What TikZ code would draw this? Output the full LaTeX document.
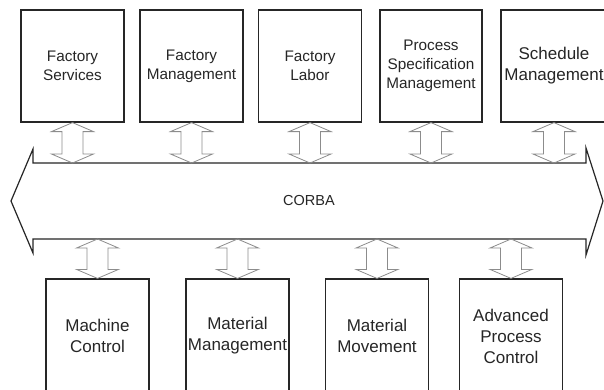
\documentclass[tikz,border=0pt]{standalone}
\usepackage{fontspec}
\setmainfont{Liberation Sans}
\usetikzlibrary{calc}
% hollow double arrow between two points on a vertical line
\newcommand{\linkarrow}[2]{%
  \draw[link] let \p1=(#1), \p2=(#2) in
    (\x1,\y1) -- (\x1+21pt,\y1-9pt) -- (\x1+10.5pt,\y1-9pt)
    -- (\x1+10.5pt,\y2+9pt) -- (\x1+21pt,\y2+9pt) -- (\x1,\y2)
    -- (\x1-21pt,\y2+9pt) -- (\x1-10.5pt,\y2+9pt)
    -- (\x1-10.5pt,\y1-9pt) -- (\x1-21pt,\y1-9pt) -- cycle;}
\begin{document}
\begin{tikzpicture}[x=1pt,y=-1pt,
  unitbox/.style={draw=black!85, line width=1.2pt, minimum width=103pt,
    minimum height=112pt, align=center, text=black!85, inner sep=0pt},
  toptext/.style={font=\fontsize{15.3}{19}\selectfont},
  bigtext/.style={font=\fontsize{17}{21}\selectfont},
  link/.style={draw=black!45, line width=0.8pt, line join=miter},
  bus/.style={draw=black!85, line width=1.2pt, line join=miter}]
\useasboundingbox (0,0) rectangle (604,389);
\clip (0,0) rectangle (604,389);
\fill[white] (0,0) rectangle (604,389);

% upper row of components
\node[unitbox,toptext] (fs)  at (72.5,66)  {Factory\\Services};
\node[unitbox,toptext] (fm)  at (191.5,66) {Factory\\Management};
\node[unitbox,toptext] (fl)  at (310,66)   {Factory\\Labor};
\node[unitbox,toptext,minimum width=102pt] (psm) at (431,66) {Process\\Specification\\Management};
\node[unitbox,bigtext,minimum width=106pt] (sm)  at (554,66) {Schedule\\Management};

% lower row of components
\node[unitbox,bigtext,minimum height=114pt] (mc)  at (97.5,336)  {Machine\\Control};
\node[unitbox,bigtext,minimum height=114pt] (mm)  at (237.5,336) {Material\\Management};
\node[unitbox,bigtext,minimum height=114pt] (mv)  at (377,336)   {Material\\Movement};
\node[unitbox,bigtext,minimum height=114pt] (apc) at (511,336)   {Advanced\\Process\\Control};

% CORBA bus
\coordinate (bustop) at (0,163);
\coordinate (busbot) at (0,239);
\draw[bus] (11,201) -- (33,149) -- (33,163) -- (586,163) -- (586,148)
  -- (603,201) -- (586,255) -- (586,239) -- (33,239) -- (33,253) -- cycle;
\node[text=black!85, font=\fontsize{14.5}{17}\selectfont] (corba) at (309,201) {CORBA};

% links between components and the bus
\linkarrow{fs.south}{fs.south |- bustop}
\linkarrow{fm.south}{fm.south |- bustop}
\linkarrow{fl.south}{fl.south |- bustop}
\linkarrow{psm.south}{psm.south |- bustop}
\linkarrow{sm.south}{sm.south |- bustop}
\linkarrow{mc.north |- busbot}{mc.north}
\linkarrow{mm.north |- busbot}{mm.north}
\linkarrow{mv.north |- busbot}{mv.north}
\linkarrow{apc.north |- busbot}{apc.north}
\end{tikzpicture}
\end{document}
